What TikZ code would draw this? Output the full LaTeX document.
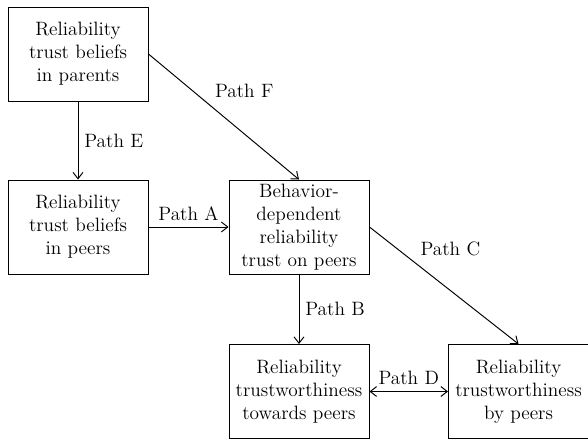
\documentclass[tikz,border=0pt]{standalone}
\usetikzlibrary{arrows,arrows.meta}

\begin{document}
\begin{tikzpicture}[line width=0.55pt, >={Straight Barb[length=3.6pt,width=5.6pt]},
  font=\fontsize{11}{13}\selectfont,
  box/.style={draw, align=center, minimum width=2.8cm, minimum height=1.88cm, inner sep=1pt}]

\useasboundingbox (0,0) rectangle (11.76,8.8);

\node (parents) at (1.56,7.72) [box] {Reliability\\trust beliefs\\in parents};
\node (peers) at (1.56,4.26) [box] {Reliability\\trust beliefs\\in peers};
\node (behavior) at (5.98,4.26) [box] {Behavior-\\dependent\\reliability\\trust on peers};
\node (towards) at (5.98,0.97) [box] {Reliability\\trustworthiness\\towards peers};
\node (bypeers) at (10.37,0.97) [box] {Reliability\\trustworthiness\\by peers};

\draw[->] (parents) -- (peers) node[midway,right] {Path E};
\draw[->] (parents.east) -- (behavior.north) node[pos=0.4,above right] {Path F};
\draw[->] (peers) -- (behavior) node[midway,above] {Path A};
\draw[->] (behavior) -- (towards) node[midway,right] {Path B};
\draw[->] (behavior.east) -- (bypeers.north) node[pos=0.3,above right] {Path C};
\draw[<->] (towards) -- (bypeers) node[midway,above] {Path D};

\end{tikzpicture}
\end{document}
